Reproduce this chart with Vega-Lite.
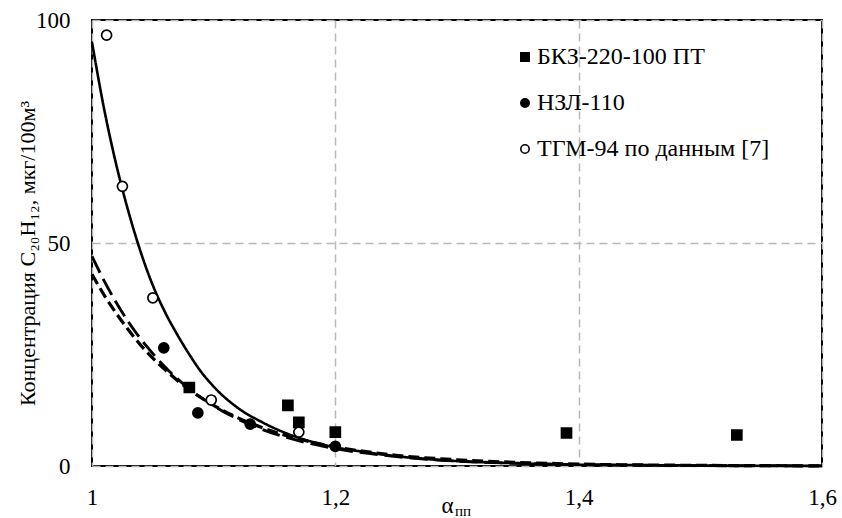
{
  "$schema": "https://vega.github.io/schema/vega-lite/v6.json",
  "width": 730,
  "height": 446,
  "autosize": {"type": "none"},
  "padding": {"left": 92, "top": 20, "right": 20, "bottom": 52},
  "background": "white",
  "config": {
    "font": "Liberation Serif, Times New Roman, serif",
    "view": {"stroke": "black", "strokeWidth": 2},
    "text": {"font": "Liberation Serif, Times New Roman, serif"},
    "axis": {
      "labelFont": "Liberation Serif, Times New Roman, serif",
      "labelFontSize": 23,
      "labelColor": "black",
      "labelFlush": false,
      "labelOverlap": false,
      "titleFont": "Liberation Serif, Times New Roman, serif",
      "titleColor": "black",
      "titleFontWeight": "normal",
      "domain": false,
      "ticks": false,
      "tickSize": 0,
      "gridColor": "#b8b8b8",
      "gridDash": [8, 5],
      "gridWidth": 1.5
    },
    "legend": {
      "labelFont": "Liberation Serif, Times New Roman, serif",
      "labelFontSize": 24,
      "labelColor": "black",
      "labelLimit": 0,
      "title": null,
      "orient": "none",
      "legendX": 421,
      "legendY": 25,
      "rowPadding": 22,
      "labelOffset": 0,
      "symbolSize": 70,
      "symbolStrokeWidth": 1.6,
      "padding": 0
    }
  },
  "datasets": {
    "points": [
      {"x": 1.08, "y": 17.6, "series": "БКЗ-220-100 ПТ"},
      {"x": 1.161, "y": 13.6, "series": "БКЗ-220-100 ПТ"},
      {"x": 1.17, "y": 9.8, "series": "БКЗ-220-100 ПТ"},
      {"x": 1.2, "y": 7.6, "series": "БКЗ-220-100 ПТ"},
      {"x": 1.39, "y": 7.4, "series": "БКЗ-220-100 ПТ"},
      {"x": 1.53, "y": 6.95, "series": "БКЗ-220-100 ПТ"},
      {"x": 1.059, "y": 26.5, "series": "НЗЛ-110"},
      {"x": 1.087, "y": 11.9, "series": "НЗЛ-110"},
      {"x": 1.13, "y": 9.4, "series": "НЗЛ-110"},
      {"x": 1.2, "y": 4.4, "series": "НЗЛ-110"},
      {"x": 1.012, "y": 96.6, "series": "ТГМ-94 по данным [7]"},
      {"x": 1.025, "y": 62.7, "series": "ТГМ-94 по данным [7]"},
      {"x": 1.05, "y": 37.7, "series": "ТГМ-94 по данным [7]"},
      {"x": 1.098, "y": 14.8, "series": "ТГМ-94 по данным [7]"},
      {"x": 1.17, "y": 7.6, "series": "ТГМ-94 по данным [7]"}
    ],
    "curves": [
      {"x": 1.0, "y": 95, "curve": "solid"},
      {"x": 1.01, "y": 80, "curve": "solid"},
      {"x": 1.02, "y": 67.5, "curve": "solid"},
      {"x": 1.03, "y": 57, "curve": "solid"},
      {"x": 1.04, "y": 48, "curve": "solid"},
      {"x": 1.05, "y": 40.5, "curve": "solid"},
      {"x": 1.06, "y": 34.5, "curve": "solid"},
      {"x": 1.07, "y": 29.5, "curve": "solid"},
      {"x": 1.08, "y": 25, "curve": "solid"},
      {"x": 1.09, "y": 21, "curve": "solid"},
      {"x": 1.1, "y": 17.8, "curve": "solid"},
      {"x": 1.12, "y": 13, "curve": "solid"},
      {"x": 1.14, "y": 9.8, "curve": "solid"},
      {"x": 1.16, "y": 7.3, "curve": "solid"},
      {"x": 1.18, "y": 5.5, "curve": "solid"},
      {"x": 1.2, "y": 4.2, "curve": "solid"},
      {"x": 1.22, "y": 3.3, "curve": "solid"},
      {"x": 1.25, "y": 2.2, "curve": "solid"},
      {"x": 1.3, "y": 1.1, "curve": "solid"},
      {"x": 1.35, "y": 0.6, "curve": "solid"},
      {"x": 1.4, "y": 0.3, "curve": "solid"},
      {"x": 1.45, "y": 0.2, "curve": "solid"},
      {"x": 1.5, "y": 0.1, "curve": "solid"},
      {"x": 1.55, "y": 0.05, "curve": "solid"},
      {"x": 1.6, "y": 0.03, "curve": "solid"},
      {"x": 1.0, "y": 47, "curve": "dash1"},
      {"x": 1.01, "y": 41.5, "curve": "dash1"},
      {"x": 1.02, "y": 36.6, "curve": "dash1"},
      {"x": 1.03, "y": 32.3, "curve": "dash1"},
      {"x": 1.04, "y": 28.5, "curve": "dash1"},
      {"x": 1.05, "y": 25.2, "curve": "dash1"},
      {"x": 1.06, "y": 22.2, "curve": "dash1"},
      {"x": 1.08, "y": 17.3, "curve": "dash1"},
      {"x": 1.1, "y": 13.5, "curve": "dash1"},
      {"x": 1.12, "y": 10.5, "curve": "dash1"},
      {"x": 1.14, "y": 8.2, "curve": "dash1"},
      {"x": 1.16, "y": 6.4, "curve": "dash1"},
      {"x": 1.18, "y": 5.0, "curve": "dash1"},
      {"x": 1.2, "y": 3.9, "curve": "dash1"},
      {"x": 1.25, "y": 2.1, "curve": "dash1"},
      {"x": 1.3, "y": 1.1, "curve": "dash1"},
      {"x": 1.35, "y": 0.6, "curve": "dash1"},
      {"x": 1.4, "y": 0.3, "curve": "dash1"},
      {"x": 1.5, "y": 0.09, "curve": "dash1"},
      {"x": 1.6, "y": 0.03, "curve": "dash1"},
      {"x": 1.0, "y": 43, "curve": "dash2"},
      {"x": 1.01, "y": 38.3, "curve": "dash2"},
      {"x": 1.02, "y": 34.2, "curve": "dash2"},
      {"x": 1.03, "y": 30.5, "curve": "dash2"},
      {"x": 1.04, "y": 27.1, "curve": "dash2"},
      {"x": 1.05, "y": 24.2, "curve": "dash2"},
      {"x": 1.06, "y": 21.6, "curve": "dash2"},
      {"x": 1.08, "y": 17.1, "curve": "dash2"},
      {"x": 1.1, "y": 13.6, "curve": "dash2"},
      {"x": 1.12, "y": 10.8, "curve": "dash2"},
      {"x": 1.14, "y": 8.6, "curve": "dash2"},
      {"x": 1.16, "y": 6.8, "curve": "dash2"},
      {"x": 1.18, "y": 5.4, "curve": "dash2"},
      {"x": 1.2, "y": 4.3, "curve": "dash2"},
      {"x": 1.25, "y": 2.4, "curve": "dash2"},
      {"x": 1.3, "y": 1.4, "curve": "dash2"},
      {"x": 1.35, "y": 0.8, "curve": "dash2"},
      {"x": 1.4, "y": 0.43, "curve": "dash2"},
      {"x": 1.5, "y": 0.14, "curve": "dash2"},
      {"x": 1.6, "y": 0.04, "curve": "dash2"}
    ]
  },
  "layer": [
    {
      "data": {"name": "curves"},
      "mark": {"type": "line", "color": "black", "interpolate": "monotone"},
      "encoding": {
        "x": {
          "field": "x", "type": "quantitative",
          "scale": {"domain": [1, 1.6], "nice": false, "zero": false},
          "axis": {
            "values": [1, 1.2, 1.4, 1.6],
            "labelExpr": "replace(format(datum.value, '~g'), '.', ',')",
            "labelPadding": 20,
            "title": "α",
            "titleFontSize": 23,
            "titleX": 355,
            "titleY": 39,
            "titleBaseline": "middle",
            "titleAlign": "center"
          }
        },
        "y": {
          "field": "y", "type": "quantitative",
          "scale": {"domain": [0, 100], "nice": false},
          "axis": {
            "values": [0, 50, 100],
            "labelPadding": 22,
            "title": "Концентрация C₂₀H₁₂, мкг/100м³",
            "titleFontSize": 22,
            "titleX": -65,
            "titleY": 233,
            "titleAngle": -90,
            "titleBaseline": "middle",
            "titleAlign": "center"
          }
        },
        "strokeDash": {
          "field": "curve", "type": "nominal",
          "scale": {"domain": ["solid", "dash1", "dash2"], "range": [[1, 0], [18, 7], [11, 5]]},
          "legend": null
        },
        "strokeWidth": {
          "field": "curve", "type": "nominal",
          "scale": {"domain": ["solid", "dash1", "dash2"], "range": [2.6, 3.2, 3.2]},
          "legend": null
        }
      }
    },
    {
      "data": {"name": "points"},
      "mark": {"type": "point", "filled": true, "strokeWidth": 1.7, "opacity": 1},
      "encoding": {
        "x": {"field": "x", "type": "quantitative"},
        "y": {"field": "y", "type": "quantitative"},
        "shape": {
          "field": "series", "type": "nominal",
          "scale": {"domain": ["БКЗ-220-100 ПТ", "НЗЛ-110", "ТГМ-94 по данным [7]"], "range": ["square", "circle", "circle"]},
          "legend": {"title": null}
        },
        "fill": {
          "field": "series", "type": "nominal",
          "scale": {"domain": ["БКЗ-220-100 ПТ", "НЗЛ-110", "ТГМ-94 по данным [7]"], "range": ["black", "black", "white"]},
          "legend": {"title": null}
        },
        "stroke": {
          "field": "series", "type": "nominal",
          "scale": {"domain": ["БКЗ-220-100 ПТ", "НЗЛ-110", "ТГМ-94 по данным [7]"], "range": ["black", "black", "black"]},
          "legend": {"title": null}
        },
        "size": {"value": 100}
      }
    },
    {
      "data": {"values": [{"sub": "пп"}]},
      "mark": {"type": "text", "fontSize": 15, "color": "black", "baseline": "middle", "align": "center", "dy": 45},
      "encoding": {
        "x": {"datum": 1.305, "type": "quantitative"},
        "y": {"datum": 0, "type": "quantitative"},
        "text": {"field": "sub", "type": "nominal"}
      }
    }
  ]
}
